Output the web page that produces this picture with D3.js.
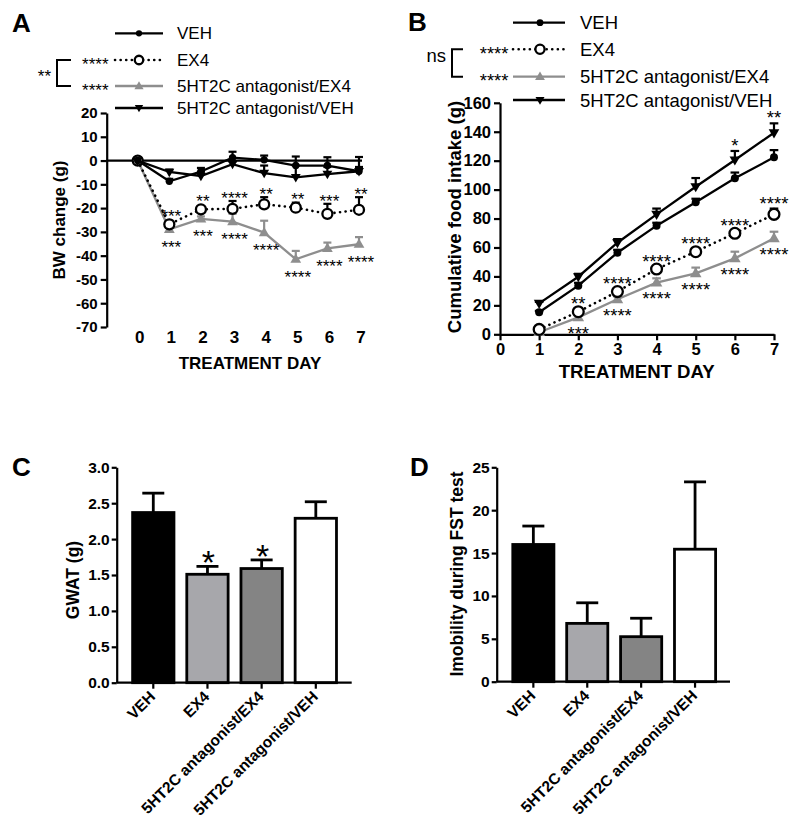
<!DOCTYPE html>
<html><head><meta charset="utf-8">
<script src="https://cdn.jsdelivr.net/npm/d3@7"></script>
<style>body{margin:0;background:#fff}svg{display:block}text{font-family:"Liberation Sans",Arial,sans-serif}</style>
</head><body><svg id="c" width="800" height="836"></svg>
<script>
// ---------- DATA ----------
const groups = ["VEH","EX4","5HT2C antagonist/EX4","5HT2C antagonist/VEH"];

// Panel A: BW change (g)
const daysA = [0,1,2,3,4,5,6,7];
const bwVEH       = [0,-8.7,-4.6, 1.2, 0.3,-2.1,-2.1,-4.5];
const bwVEHerr    = [0, 1.0, 1.5, 2.5, 1.8, 3.8, 3.5, 6.0];
const bwEX4       = [0,-26.8,-20.5,-20.3,-18.4,-19.8,-22.4,-20.7];
const bwEX4err    = [0, 1.5, 0.8, 3.3, 3.0, 2.1, 4.2, 5.3];
const bwAntEX4    = [0,-28.9,-24.5,-25.7,-30.3,-41.5,-36.9,-35.2];
const bwAntEX4err = [0, 2.0, 1.0, 3.3, 5.0, 3.5, 2.4, 3.0];
const bwAntVEH    = [0,-4.8,-6.5,-1.5,-5.3,-7.1,-5.7,-4.5];
const bwAntVEHerr = [0, 1.0, 1.8, 1.2, 3.2, 5.0, 3.0, 1.8];
const bwStarsEX4    = ["","***","**","****","**","**","***","**"];
const bwStarsAntEX4 = ["","***","***","****","****","****","****","****"];
const yTicksA = [-70,-60,-50,-40,-30,-20,-10,0,10,20];

// Panel B: cumulative food intake (g)
const daysB = [1,2,3,4,5,6,7];
const xTicksB = [0,1,2,3,4,5,6,7];
const yTicksB = [0,20,40,60,80,100,120,140,160];
const fiVEH       = [15.2,33.6,56.4,75.1,91.2,107.8,122.3];
const fiVEHerr    = [1.0,2.0,2.0,2.0,2.5,4.0,5.0];
const fiEX4       = [3.4,15.6,29.5,45.1,57.1,69.8,82.9];
const fiEX4err    = [1.0,1.5,1.5,1.5,1.5,1.5,4.0];
const fiAntEX4    = [1.4,11.7,24.2,35.7,42.1,52.5,66.3];
const fiAntEX4err = [1.0,1.5,2.0,3.0,4.0,4.6,4.6];
const fiAntVEH    = [21.4,39.8,63.3,82.9,102.0,120.5,139.3];
const fiAntVEHerr = [1.0,2.0,2.5,4.0,6.0,6.2,6.5];
const fiStarsEX4    = ["","**","****","****","****","****","****"];
const fiStarsAntEX4 = ["","***","****","****","****","****","****"];
const fiStarsAntVEH = ["","","","","","*","**"];

// Panel C: GWAT (g)
const gwat    = [2.37,1.51,1.59,2.29];
const gwatErr = [0.27,0.11,0.12,0.23];
const gwatStars = ["","*","*",""];
const yTicksC = [0,0.5,1.0,1.5,2.0,2.5,3.0];

// Panel D: immobility during FST
const fst    = [16.0,6.8,5.25,15.45];
const fstErr = [2.15,2.4,2.15,7.85];
const yTicksD = [0,5,10,15,20,25];

const barColors = ["#000000","#a7a7ab","#848484","#ffffff"];
const GRAY = "#8e8e8e";

// ---------- HELPERS ----------
const svg = d3.select("#c");
const FONT = '"Liberation Sans",Arial,sans-serif';
const plain = d => String(d);

function styleAxis(g, fs){
  g.select(".domain").attr("stroke","#000").attr("stroke-width",2.2);
  g.selectAll(".tick line").attr("stroke","#000").attr("stroke-width",2.2);
  g.selectAll(".tick text").attr("font-family",FONT).attr("font-weight","bold").attr("font-size",fs).attr("fill","#000");
}
function marker(sel, type, x, y, k){
  if(type==="dot") sel.append("circle").attr("cx",x).attr("cy",y).attr("r",3.7*k).attr("fill","#000");
  else if(type==="open") sel.append("circle").attr("cx",x).attr("cy",y).attr("r",5*k).attr("fill","#fff").attr("stroke","#000").attr("stroke-width",2.3);
  else if(type==="up") sel.append("path").attr("d",d3.symbol(d3.symbolTriangle,50*k*k)()).attr("transform",`translate(${x},${y+0.5})`).attr("fill",GRAY);
  else if(type==="down") sel.append("path").attr("d",d3.symbol(d3.symbolTriangle,42*k*k)()).attr("transform",`translate(${x},${y-0.5}) rotate(180)`).attr("fill","#000");
}
const styles = [
  {color:"#000", dash:null,  mk:"dot"},
  {color:"#000", dash:"0.1,5.5", mk:"open"},
  {color:GRAY,   dash:null,  mk:"up"},
  {color:"#000", dash:null,  mk:"down"}
];
function drawSeries(g, x, y, days, vals, errs, st, k){
  const line = d3.line().x((d,i)=>x(days[i])).y(d=>y(d));
  const p = g.append("path").datum(vals).attr("d",line).attr("fill","none")
    .attr("stroke",st.color).attr("stroke-width",st.dash?2.6:2.3);
  if(st.dash) p.attr("stroke-dasharray",st.dash).attr("stroke-linecap","round");
  const cw = 4*k;
  vals.forEach((v,i)=>{
    if(errs[i]>0){
      const xx=x(days[i]), y0=y(v), y1=y(v+errs[i]);
      g.append("line").attr("x1",xx).attr("x2",xx).attr("y1",y0).attr("y2",y1).attr("stroke",st.color).attr("stroke-width",2.2);
      g.append("line").attr("x1",xx-cw).attr("x2",xx+cw).attr("y1",y1).attr("y2",y1).attr("stroke",st.color).attr("stroke-width",2.2);
    }
  });
  vals.forEach((v,i)=>marker(g, st.mk, x(days[i]), y(v), k));
}
function stars(g, x, cy, txt, fs){
  if(!txt) return;
  g.append("text").attr("x",x).attr("y",cy+0.58*fs).attr("text-anchor","middle")
    .attr("font-size",fs).attr("fill","#000").text(txt);
}
function legend(g, o){
  groups.forEach((name,i)=>{
    const st = styles[i], yy=o.ys[i];
    const l = g.append("line").attr("x1",o.x0).attr("x2",o.x1).attr("y1",yy).attr("y2",yy)
      .attr("stroke",st.color).attr("stroke-width",st.dash?2.6:2.3);
    if(st.dash) l.attr("stroke-dasharray",st.dash).attr("stroke-linecap","round");
    marker(g, st.mk, o.xm, yy, o.k*0.85);
    g.append("text").attr("x",o.xt).attr("y",yy+0.36*o.fs).attr("font-size",o.fs).text(name);
  });
  // bracket
  const yb0=o.ys[1], yb1=o.ys[2];
  g.append("path").attr("d",`M${o.bx1},${yb0}H${o.bx0}V${yb1}H${o.bx1}`).attr("fill","none").attr("stroke","#000").attr("stroke-width",2);
  [yb0,yb1].forEach(yy=>g.append("text").attr("x",o.sx).attr("y",yy+0.58*o.fs).attr("text-anchor","end").attr("font-size",o.fs).text("****"));
  g.append("text").attr("x",o.bx0-6).attr("y",o.bracketLabelY).attr("text-anchor","end").attr("font-size",o.fs).text(o.bracketLabel);
}
function panelLetter(t,x,y){
  svg.append("text").attr("x",x).attr("y",y).attr("font-size",26).attr("font-weight","bold").text(t);
}

// ---------- PANEL A ----------
{
  const g = svg.append("g");
  const x = d3.scaleLinear().domain([0,7]).range([137.7,359]);
  const y = d3.scaleLinear().domain([-70,20]).range([327,113]);
  g.append("g").attr("transform","translate(106.7,0)")
    .call(d3.axisLeft(y).tickValues(yTicksA).tickSize(6).tickSizeOuter(0).tickPadding(3).tickFormat(plain))
    .call(styleAxis,15);
  g.append("line").attr("x1",106.7).attr("x2",362).attr("y1",y(0)).attr("y2",y(0)).attr("stroke","#000").attr("stroke-width",2.2);
  daysA.forEach(d=>g.append("text").attr("x",x(d)+2).attr("y",343).attr("text-anchor","middle")
    .attr("font-family",'"Liberation Serif","Times New Roman",serif').attr("font-weight","bold").attr("font-size",17).text(d));
  g.append("text").attr("x",250).attr("y",369).attr("text-anchor","middle").attr("font-weight","bold").attr("font-size",17).text("TREATMENT DAY");
  g.append("text").attr("transform","translate(65,220) rotate(-90)").attr("text-anchor","middle").attr("font-weight","bold").attr("font-size",17).text("BW change (g)");

  drawSeries(g,x,y,daysA,bwAntEX4,bwAntEX4err,styles[2],1);
  drawSeries(g,x,y,daysA,bwEX4,bwEX4err,styles[1],1);
  drawSeries(g,x,y,daysA,bwAntVEH,bwAntVEHerr,styles[3],1);
  drawSeries(g,x,y,daysA,bwVEH,bwVEHerr,styles[0],1);
  daysA.forEach((d,i)=>{
    stars(g, x(d)+2, Math.min(y(bwEX4[i])-12, y(bwEX4[i]+bwEX4err[i])-7), bwStarsEX4[i], 17);
    stars(g, x(d)+2, y(bwAntEX4[i])+13.5, bwStarsAntEX4[i], 17);
  });
  legend(g,{x0:115,x1:163,xm:139,xt:177,ys:[33.3,60,86,108],fs:17,k:1,bx0:57,bx1:71,sx:108.5,bracketLabel:"**",bracketLabelY:82});
  panelLetter("A",12,32);
}

// ---------- PANEL B ----------
{
  const g = svg.append("g");
  const x = d3.scaleLinear().domain([0,7]).range([500,774]);
  const y = d3.scaleLinear().domain([0,160]).range([334.3,102.8]);
  g.append("g").attr("transform","translate(500,0)")
    .call(d3.axisLeft(y).tickValues(yTicksB).tickSize(6).tickSizeOuter(0).tickPadding(3).tickFormat(plain))
    .call(styleAxis,16.5);
  g.append("g").attr("transform","translate(0,334.3)")
    .call(d3.axisBottom(x).tickValues(xTicksB).tickSize(6).tickSizeOuter(0).tickPadding(3).tickFormat(plain))
    .call(styleAxis,16.5);
  g.append("text").attr("x",636.7).attr("y",378).attr("text-anchor","middle").attr("font-weight","bold").attr("font-size",18.6).text("TREATMENT DAY");
  g.append("text").attr("transform","translate(461,217) rotate(-90)").attr("text-anchor","middle").attr("font-weight","bold").attr("font-size",18.5).text("Cumulative food intake (g)");

  drawSeries(g,x,y,daysB,fiAntEX4,fiAntEX4err,styles[2],1.08);
  drawSeries(g,x,y,daysB,fiEX4,fiEX4err,styles[1],1.08);
  drawSeries(g,x,y,daysB,fiAntVEH,fiAntVEHerr,styles[3],1.08);
  drawSeries(g,x,y,daysB,fiVEH,fiVEHerr,styles[0],1.08);
  daysB.forEach((d,i)=>{
    stars(g, x(d), Math.min(y(fiEX4[i])-12, y(fiEX4[i]+fiEX4err[i])-9), fiStarsEX4[i], 18.5);
    stars(g, x(d), y(fiAntEX4[i])+12, fiStarsAntEX4[i], 18.5);
    stars(g, x(d), y(fiAntVEH[i]+fiAntVEHerr[i])-10, fiStarsAntVEH[i], 18.5);
  });
  legend(g,{x0:513,x1:565,xm:540,xt:580,ys:[22.7,49.3,76.7,100],fs:18.5,k:1.08,bx0:452,bx1:463,sx:508.5,bracketLabel:"ns",bracketLabelY:62});
  panelLetter("B",408,31);
}

// ---------- BAR PANELS ----------
function barPanel(o){
  const g = svg.append("g");
  const x = d3.scaleBand().domain(groups).range(o.xr).paddingInner(0.2).paddingOuter(0.1);
  const y = d3.scaleLinear().domain(o.yd).range(o.yr);
  o.vals.forEach((v,i)=>{
    const cx = x(groups[i])+x.bandwidth()/2, y1=y(v+o.errs[i]);
    g.append("line").attr("x1",cx).attr("x2",cx).attr("y1",y(v)).attr("y2",y1).attr("stroke","#000").attr("stroke-width",2.8);
    g.append("line").attr("x1",cx-11).attr("x2",cx+11).attr("y1",y1).attr("y2",y1).attr("stroke","#000").attr("stroke-width",2.8);
  });
  g.selectAll("rect.bar").data(o.vals).join("rect")
    .attr("x",(d,i)=>x(groups[i])+1).attr("width",x.bandwidth()-2)
    .attr("y",d=>y(d)).attr("height",d=>y(0)-y(d))
    .attr("fill",(d,i)=>barColors[i]).attr("stroke","#000").attr("stroke-width",2.8);
  g.append("g").attr("transform",`translate(${o.xr[0]-o.axOff},0)`)
    .call(d3.axisLeft(y).tickValues(o.ticks).tickSize(5).tickSizeOuter(0).tickPadding(2).tickFormat(o.fmt))
    .call(styleAxis,15.5);
  const xa = g.append("g").attr("transform",`translate(0,${y(0)})`)
    .call(d3.axisBottom(x).tickSize(6).tickSizeOuter(0).tickFormat(""))
    .call(styleAxis,15);
  xa.select(".domain").attr("d",`M${o.xr[0]-o.axOff},0H${o.xEnd}`);
  groups.forEach((gname,i)=>{
    const cx = x(gname)+x.bandwidth()/2;
    g.append("text").attr("transform",`translate(${cx+3},${y(0)+15}) rotate(-45)`).attr("text-anchor","end")
      .attr("font-weight","bold").attr("font-size",15.5).text(gname);
  });
  g.append("text").attr("transform",`translate(${o.ylx},${o.yly}) rotate(-90)`).attr("text-anchor","middle")
    .attr("font-weight","bold").attr("font-size",17.5).text(o.ylabel);
  if(o.stars) o.stars.forEach((s,i)=>{
    if(!s) return;
    const cx = x(groups[i])+x.bandwidth()/2;
    stars(g, cx+1, y(o.vals[i]+o.errs[i])-12, s, 34);
  });
}
barPanel({xr:[126.2,342.9],axOff:9.5,xEnd:351.7,yd:[0,3],yr:[682.7,467.3],ticks:yTicksC,fmt:d3.format(".1f"),
  vals:gwat,errs:gwatErr,stars:gwatStars,ylabel:"GWAT (g)",ylx:79,yly:580});
panelLetter("C",12,476);
barPanel({xr:[506.4,722],axOff:9.7,xEnd:730,yd:[0,25],yr:[681.7,467.3],ticks:yTicksD,fmt:d3.format("d"),
  vals:fst,errs:fstErr,stars:null,ylabel:"Imobility during FST test",ylx:463,yly:574});
panelLetter("D",410,476);
</script></body></html>
